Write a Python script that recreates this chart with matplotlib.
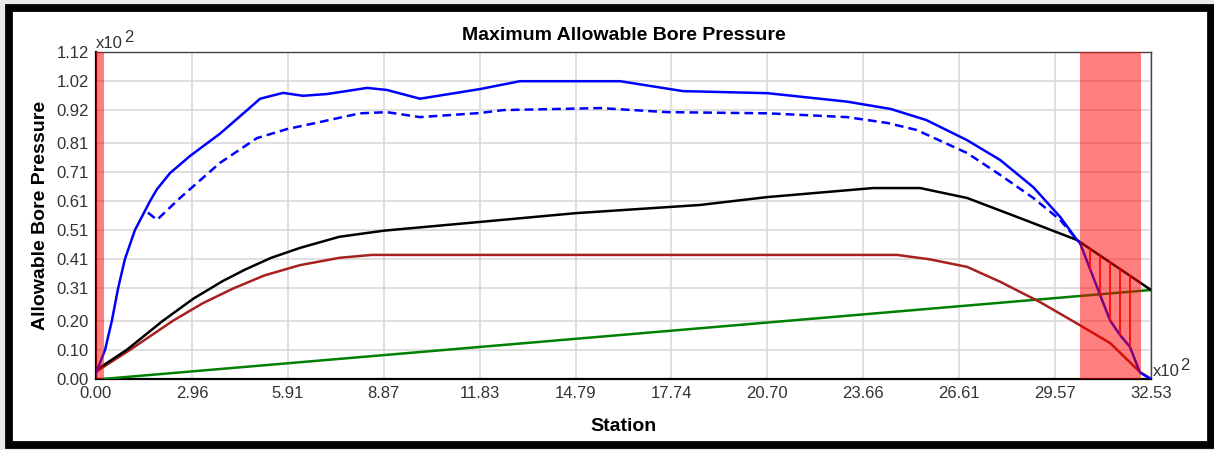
import numpy as np
import matplotlib.pyplot as plt
from matplotlib.patches import Rectangle

plt.rcParams['font.family'] = ['Liberation Sans', 'DejaVu Sans']

# Station axis (x10^2) and pressure axis (x10^2)
x_ticks = [0.00, 2.96, 5.91, 8.87, 11.83, 14.79, 17.74, 20.70, 23.66, 26.61, 29.57, 32.53]
y_ticks = [0.00, 0.10, 0.20, 0.31, 0.41, 0.51, 0.61, 0.71, 0.81, 0.92, 1.02, 1.12]

# Maximum allowable pressure (solid blue)
max_x = [0.0, 0.28, 0.49, 0.68, 0.89, 1.2, 1.67, 1.88, 2.28, 2.90, 3.82, 4.65, 5.06, 5.77,
         6.38, 7.12, 8.36, 8.97, 9.99, 11.84, 13.07, 14.52, 16.16, 18.1, 20.7, 23.16, 24.5,
         25.6, 26.86, 27.88, 28.9, 29.73, 30.25, 30.34, 30.96, 31.27, 31.58, 31.88,
         32.19, 32.53]
max_y = [0.02, 0.10, 0.20, 0.31, 0.41, 0.51, 0.61, 0.65, 0.705, 0.764, 0.84, 0.92, 0.96, 0.98,
         0.97, 0.976, 0.997, 0.99, 0.96, 0.993, 1.02, 1.02, 1.02, 0.986, 0.979, 0.95, 0.925,
         0.887, 0.818, 0.75, 0.657, 0.555, 0.476, 0.466, 0.288, 0.2, 0.15, 0.11,
         0.022, 0.0]

# Allowable pressure with safety factor (dashed blue)
safe_x = [1.6, 1.88, 2.59, 3.82, 4.96, 5.89, 6.9, 8.14, 8.97, 9.99, 11.84, 12.55, 15.54,
          17.6, 20.7, 23.16, 24.4, 25.3, 26.86, 27.88, 28.9, 29.73, 30.25]
safe_y = [0.57, 0.545, 0.62, 0.74, 0.825, 0.856, 0.88, 0.91, 0.914, 0.897, 0.911, 0.921, 0.928,
          0.914, 0.91, 0.897, 0.877, 0.853, 0.774, 0.699, 0.62, 0.545, 0.476]

# Required mud pressure (black)
mud_x = [0.0, 0.95, 2.07, 3.0, 3.9, 4.6, 5.4, 6.29, 7.5, 8.87, 11.84, 14.79, 18.62, 20.69,
         23.96, 25.41, 26.86, 28.4, 30.25, 32.53]
mud_y = [0.03, 0.10, 0.20, 0.275, 0.335, 0.375, 0.415, 0.449, 0.487, 0.508, 0.538, 0.568,
         0.596, 0.623, 0.654, 0.654, 0.62, 0.555, 0.476, 0.305]

# Minimum pressure (dark red)
min_x = [0.0, 1.05, 2.38, 3.3, 4.23, 5.2, 6.29, 7.5, 8.5, 24.7, 25.7, 26.86, 27.88, 29.1,
         30.25, 31.27, 32.19, 32.53]
min_y = [0.025, 0.10, 0.20, 0.26, 0.31, 0.355, 0.39, 0.415, 0.425, 0.425, 0.41, 0.384, 0.333,
         0.264, 0.19, 0.123, 0.024, 0.0]

# Hydrostatic pressure (green)
hydro_x = [0.2, 32.53]
hydro_y = [0.0, 0.305]

# Zones where required pressure exceeds the allowable
zones = [(0.0, 0.25), (30.34, 32.22)]
hatch_x = [30.65, 30.96, 31.27, 31.58, 31.88]

fig = plt.figure(figsize=(12.14, 4.5), dpi=100)
fig.patch.set_facecolor('#e9e9e9')
W, H = 1214, 450
fig.add_artist(Rectangle((8.5 / W, 5.5 / H), 1202 / W, 436.5 / H, transform=fig.transFigure,
                         facecolor='white', edgecolor='black', linewidth=5.6, zorder=0))

ax = fig.add_axes([96 / W, 1 - 379 / H, 1055 / W, 327 / H])
ax.set_xlim(0, 32.53)
ax.set_ylim(0, 1.12)
ax.set_xticks(x_ticks)
ax.set_xticklabels([f'{v:.2f}' for v in x_ticks])
ax.set_yticks(y_ticks)
ax.set_yticklabels([f'{v:.2f}' for v in y_ticks])
ax.tick_params(length=0, labelsize=12, colors='#333333', pad=5)
ax.grid(True, color='#d9d9d9', linewidth=1.2)
ax.set_axisbelow(True)
for side in ['left', 'bottom']:
    ax.spines[side].set_linewidth(1.6)
    ax.spines[side].set_color('black')
for side in ['top', 'right']:
    ax.spines[side].set_linewidth(1.0)
    ax.spines[side].set_color('#444444')

ax.plot(hydro_x, hydro_y, color='#008000', lw=1.8, zorder=3)
ax.plot(min_x, min_y, color='#a8201e', lw=1.8, zorder=3)
ax.plot(mud_x, mud_y, color='black', lw=1.8, zorder=4)
ax.plot(safe_x, safe_y, color='#0000ff', lw=1.8, ls=(0, (3.5, 2)), zorder=4)
ax.plot(max_x, max_y, color='#0000ff', lw=1.8, zorder=5)

# vertical hatch between required and allowable inside the red zone
for hx in hatch_x:
    lo = np.interp(hx, max_x, max_y)
    hi = np.interp(hx, mud_x, mud_y)
    ax.plot([hx, hx], [lo, hi], color='#ff0000', lw=1.2, zorder=6)

for x0, x1 in zones:
    ax.axvspan(x0, x1, color='#ff0000', alpha=0.5, lw=0, zorder=7)

ax.set_title('Maximum Allowable Bore Pressure', fontsize=14, fontweight='bold', pad=9)
ax.set_xlabel('Station', fontsize=14, fontweight='bold')
ax.set_ylabel('Allowable Bore Pressure', fontsize=14, fontweight='bold')
ax.xaxis.set_label_coords(0.5, -0.12)
ax.yaxis.set_label_coords(-0.045, 0.5)

# exponent markers
ax.annotate('x10', xy=(0, 1), xycoords='axes fraction', xytext=(0, 1), textcoords='offset points',
            fontsize=12, color='#333333', ha='left', va='bottom')
ax.annotate('2', xy=(0, 1), xycoords='axes fraction', xytext=(20, 5), textcoords='offset points',
            fontsize=12, color='#333333', ha='left', va='bottom')
ax.annotate('x10', xy=(1, 0), xycoords='axes fraction', xytext=(1, 0), textcoords='offset points',
            fontsize=12, color='#333333', ha='left', va='bottom')
ax.annotate('2', xy=(1, 0), xycoords='axes fraction', xytext=(21, 4), textcoords='offset points',
            fontsize=12, color='#333333', ha='left', va='bottom')

fig.savefig('out.png', dpi=100, facecolor=fig.get_facecolor())
